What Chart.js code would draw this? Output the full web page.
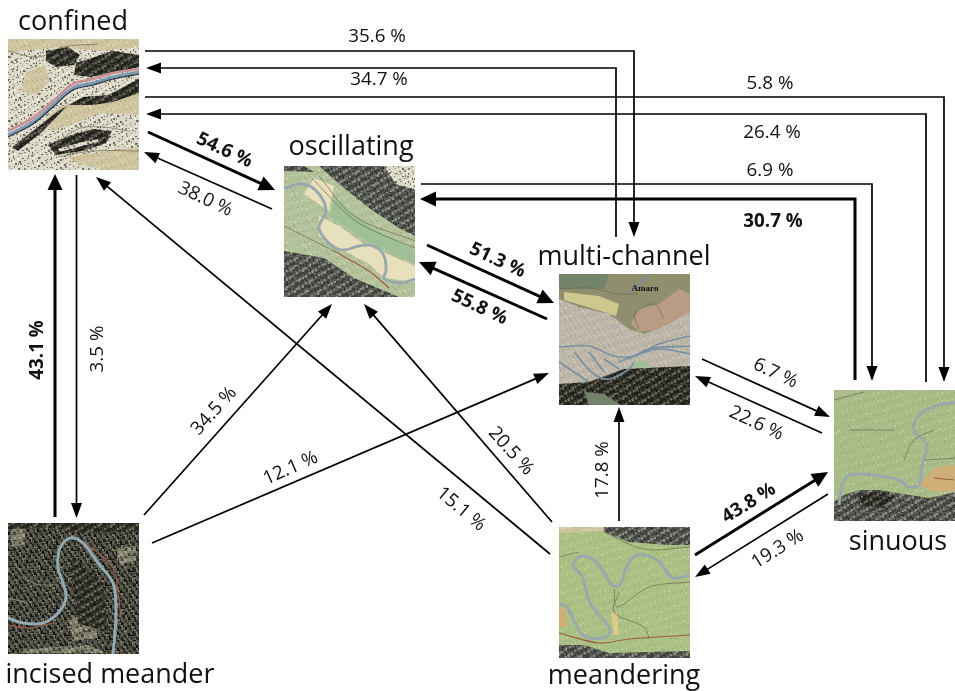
<!DOCTYPE html>
<html>
<head>
<meta charset="utf-8">
<title>River pattern transitions</title>
<style>
  html, body { margin: 0; padding: 0; background: #fff; }
  canvas { display: block; }
</style>
<script src="https://cdn.jsdelivr.net/npm/chart.js@4/dist/chart.umd.min.js"></script>
</head>
<body>
<canvas id="transitions" width="955" height="691"></canvas>
<script>
// river types and the top left corner of their map tile
const nodeNames = ['confined', 'oscillating', 'multi-channel', 'sinuous', 'incised meander', 'meandering'];
const nodeCorners = [[8, 39], [284, 166], [559, 274], [834, 390], [8, 523], [559, 527]];
const nodeLabelSpots = [[73, 20], [351, 145], [624, 255], [898, 540], [110, 673], [624, 674]];

// transition shares in %
const edgeValues = [35.6, 34.7, 5.8, 26.4, 6.9, 30.7, 54.6, 38.0, 51.3, 55.8, 6.7, 22.6, 43.1, 3.5, 34.5, 12.1, 20.5, 15.1, 17.8, 43.8, 19.3];
const edgeStrong = [0, 0, 0, 0, 0, 1, 1, 0, 1, 1, 0, 0, 1, 0, 0, 0, 0, 0, 0, 1, 0];
const edgeRoutes = [
  [[145, 51], [634, 51], [634, 237]],
  [[616, 237], [616, 68], [146, 68]],
  [[145, 97], [944, 97], [944, 382]],
  [[926, 382], [926, 114], [146, 114]],
  [[421, 184], [872, 184], [872, 381]],
  [[855, 380], [855, 199], [420, 199]],
  [[148, 132], [275, 190]],
  [[272, 209], [144, 152]],
  [[427, 245], [554, 303]],
  [[547, 319], [419, 262]],
  [[702, 359], [830, 417]],
  [[822, 433], [695, 376]],
  [[55, 517], [55, 174]],
  [[76.5, 175], [76.5, 518]],
  [[144, 515], [332, 304]],
  [[152, 543], [549, 373]],
  [[552, 522], [364, 304]],
  [[550, 554], [96, 177]],
  [[619, 521], [619, 407]],
  [[695, 555], [828, 472]],
  [[828, 494], [695, 577]]
];
const edgeLabelSpots = [[377, 35], [379, 78], [770, 82], [772, 131], [770, 169], [773, 220], [225, 149], [206, 198], [498, 259], [480, 306], [776, 372], [757, 422], [36, 350], [96, 349], [213, 410], [290, 467], [512, 450], [462, 508], [601, 470], [748, 502], [777, 548]];
const edgeLabelAngles = [0, 0, 0, 0, 0, 0, 25, 25, 25, 25, 25, 25, -90, -90, -48, -24, 48, 40, -90, -32, -32];

// map tiles, sketched as layers in tile coordinates (0-131)
const tileBase = ['hachure', 'meadow', 'gravel', 'grass', 'forest', 'lawn'];
const tileAreas = [
  [
    ['plain', [[0, 0], [131, 0], [131, 8], [90, 12], [50, 8], [0, 14]]],
    ['ridge', [[38, 12], [60, 8], [72, 16], [66, 26], [48, 28], [38, 22]]],
    ['ridge', [[68, 24], [105, 12], [131, 16], [131, 28], [105, 34], [82, 38], [66, 36]]],
    ['plain', [[18, 34], [36, 26], [42, 42], [28, 56], [12, 52]]],
    ['plain', [[38, 78], [60, 64], [100, 62], [131, 50], [131, 76], [92, 74], [62, 86], [42, 92]]],
    ['ridge', [[4, 108], [25, 92], [50, 72], [75, 58], [100, 56], [131, 40], [131, 54], [105, 63], [85, 66], [60, 66], [35, 92], [10, 112]]],
    ['ridge', [[40, 106], [60, 97], [85, 90], [104, 92], [98, 104], [75, 112], [48, 116]]],
    ['hachure', [[50, 110], [70, 104], [90, 100], [90, 103], [70, 108], [52, 113]]],
    ['plain', [[60, 118], [100, 112], [131, 108], [131, 131], [100, 131], [70, 125]]]
  ],
  [
    ['cream', [[35, 50], [55, 60], [80, 78], [131, 100], [131, 116], [100, 112], [85, 98], [55, 82], [35, 70]]],
    ['cream', [[20, 28], [45, 45], [50, 20], [30, 12]]],
    ['green', [[52, 32], [85, 60], [131, 85], [131, 98], [85, 76], [45, 50]]],
    ['slate', [[35, 0], [131, 0], [131, 70], [115, 62], [85, 42], [60, 22]]],
    ['hachure', [[100, 0], [131, 0], [131, 24], [112, 18]]],
    ['slate', [[0, 85], [40, 92], [70, 112], [115, 131], [0, 131]]],
    ['slate', [[0, 0], [20, 0], [30, 6], [0, 5]]]
  ],
  [
    ['moss', [[0, 0], [131, 0], [131, 35], [110, 50], [85, 60], [70, 55], [50, 40], [20, 33], [0, 25]]],
    ['olive', [[0, 0], [50, 0], [45, 15], [0, 15]]],
    ['wheat', [[5, 18], [40, 22], [60, 30], [57, 42], [35, 35], [5, 26]]],
    ['rose', [[72, 50], [80, 35], [100, 30], [120, 15], [131, 20], [131, 38], [100, 55], [80, 58]]],
    ['ridge', [[0, 110], [30, 108], [65, 95], [131, 92], [131, 131], [0, 131]]],
    ['green', [[72, 93], [80, 86], [88, 88], [91, 94]]],
    ['olive', [[25, 118], [45, 120], [62, 131], [30, 131]]]
  ],
  [
    ['slate', [[0, 112], [10, 105], [25, 100], [45, 100], [75, 105], [95, 108], [131, 100], [131, 131], [0, 131]]],
    ['ridge', [[22, 104], [45, 101], [60, 106], [50, 118], [30, 116]]],
    ['sand', [[85, 95], [100, 78], [120, 75], [131, 80], [131, 100], [100, 102]]]
  ],
  [
    ['ash', [[3, 6], [18, 4], [16, 22], [3, 24]]],
    ['ash', [[108, 25], [128, 22], [128, 38], [112, 42]]],
    ['ash', [[60, 95], [85, 90], [90, 115], [65, 118]]],
    ['ash', [[15, 126], [80, 122], [100, 130], [15, 130]]],
    ['ridge', [[0, 0], [131, 0], [131, 8], [70, 10], [40, 5], [0, 6]]],
    ['ridge', [[62, 30], [95, 60], [100, 110], [70, 100], [65, 65]]]
  ],
  [
    ['plain', [[0, 0], [45, 0], [45, 4], [0, 6]]],
    ['slate', [[45, 0], [131, 0], [131, 18], [110, 18], [70, 15], [45, 5]]],
    ['slate', [[0, 118], [25, 118], [50, 126], [131, 124], [131, 131], [0, 131]]],
    ['sand', [[0, 80], [6, 80], [8, 100], [0, 100]]],
    ['straw', [[52, 86], [58, 85], [60, 108], [55, 108]]]
  ]
];
const tileStreams = [
  [
    ['pinkBank', [[0, 92], [25, 79], [45, 62], [65, 45], [85, 40], [105, 34], [131, 30]]],
    ['water', [[0, 96], [25, 83], [45, 66], [65, 49], [85, 44], [105, 38], [131, 33]]],
    ['inkLine', [[0, 98], [25, 85], [45, 68], [65, 51], [85, 46], [105, 40], [131, 35]]],
    ['track', [[0, 12], [30, 18], [55, 8], [90, 5]]],
    ['track', [[40, 112], [70, 90], [95, 88], [120, 92]]],
    ['track', [[50, 118], [85, 112], [131, 112]]]
  ],
  [
    ['greyRiver', [[0, 22], [20, 18], [35, 28], [42, 45], [35, 62], [48, 80], [60, 84], [75, 80], [90, 80], [100, 90], [102, 105], [100, 112], [115, 117], [131, 113]]],
    ['track', [[28, 12], [65, 50], [90, 65], [131, 82]]],
    ['track', [[35, 10], [70, 50], [131, 75]]],
    ['redRoad', [[50, 85], [85, 105], [105, 122]]],
    ['track', [[0, 60], [20, 70], [50, 85]]]
  ],
  [
    ['riverBlue', [[0, 73], [30, 72], [55, 82], [75, 82], [100, 70], [131, 62]]],
    ['riverBlue', [[60, 88], [75, 82], [100, 75], [131, 80]]],
    ['riverBlue', [[15, 78], [35, 100], [50, 105], [70, 95], [75, 88]]],
    ['riverBlue', [[30, 78], [45, 98]]],
    ['riverBlue', [[70, 85], [90, 75], [131, 72]]],
    ['riverBlue', [[0, 88], [18, 100], [30, 108]]],
    ['riverBlue', [[45, 85], [60, 95]]],
    ['riverBlue', [[68, 20], [78, 12], [90, 0]]],
    ['track', [[0, 15], [30, 14], [60, 20], [80, 20]]],
    ['track', [[80, 55], [76, 40], [95, 30], [105, 45]]]
  ],
  [
    ['greyRiver', [[5, 115], [8, 95], [15, 85], [40, 85], [65, 90], [75, 97], [85, 95], [88, 75], [93, 55], [80, 40], [85, 25], [105, 15], [131, 12]]],
    ['track', [[0, 10], [30, 2]]],
    ['track', [[15, 40], [60, 40]]],
    ['track', [[90, 70], [125, 68]]],
    ['track', [[70, 70], [80, 50], [100, 40]]],
    ['redRoad', [[100, 88], [120, 90]]]
  ],
  [
    ['redRoad', [[62, 12], [80, 22], [105, 45], [110, 70], [113, 95]]],
    ['riverPale', [[0, 95], [15, 100], [35, 100], [50, 90], [58, 75], [55, 60], [50, 45], [52, 25], [62, 15], [75, 20], [90, 40], [105, 60], [108, 85], [107, 110], [105, 131]]],
    ['redRoad', [[0, 102], [20, 105], [45, 100]]],
    ['ashLine', [[5, 40], [25, 60], [50, 62]]],
    ['ashLine', [[0, 75], [20, 80]]]
  ],
  [
    ['greyRiver', [[131, 48], [114, 51], [98, 33], [78, 28], [68, 39], [61, 58], [53, 58], [38, 36], [23, 29], [14, 38], [23, 49], [31, 76], [51, 103], [44, 111], [24, 108], [13, 89], [6, 78], [0, 78]]],
    ['redRoad', [[0, 106], [40, 116], [70, 112], [131, 108]]],
    ['track', [[0, 30], [20, 25]]],
    ['track', [[55, 62], [58, 80], [90, 60], [131, 55]]],
    ['track', [[60, 65], [55, 85], [85, 100], [90, 110]]],
    ['track', [[45, 5], [85, 22], [131, 20]]]
  ]
];

const TILE = 131;

// repeating grain for the map paper, a texture and no part of the chart data
function grain(base, inks, count, size) {
  const c = document.createElement('canvas');
  c.width = c.height = 64;
  const g = c.getContext('2d');
  g.fillStyle = base;
  g.fillRect(0, 0, 64, 64);
  for (let i = 0; i < count; i++) {
    const px = Math.floor((i * 0.7548777 % 1) * 64);
    const py = Math.floor((i * 0.5698403 % 1) * 64);
    g.fillStyle = inks[i % inks.length];
    g.fillRect(px, py, 1 + i % size, 1 + (i >> 2) % size);
  }
  return g.createPattern(c, 'repeat');
}
const areaFills = {
  plain: grain('#cfc4a0', ['#b5a983', '#ded5b6'], 240, 2),
  meadow: grain('#b3c29a', ['#9aab82', '#c6d2ae'], 240, 2),
  gravel: grain('#bdb7a9', ['#a8a396', '#cbc6b9'], 300, 2),
  grass: grain('#a9bb86', ['#98aa78', '#b9ca96'], 200, 2),
  lawn: grain('#abc084', ['#9bb076', '#bbce95'], 200, 2),
  forest: grain('#4a4940', ['#24241e', '#77766a', '#14140f', '#5f5e52'], 700, 3),
  hachure: grain('#dcd8c8', ['#8b8878', '#f2efe4', '#6e6b5c'], 420, 2),
  ridge: grain('#3a3932', ['#14140f', '#6a695d', '#22221c'], 560, 3),
  slate: grain('#5b5d57', ['#2c2d29', '#8b8c84', '#41423d'], 560, 3),
  ash: grain('#7c7b68', ['#45443a', '#9d9c88'], 380, 3),
  cream: '#e8dfbd',
  green: '#9fc097',
  moss: '#8f8f6e',
  olive: '#74836a',
  wheat: '#cfc88e',
  rose: '#b99c84',
  sand: '#cfae78',
  straw: '#dacb86'
};
const streamStyles = {
  pinkBank: ['#cc8f94', 2.5],
  water: ['#7d9ab5', 3],
  inkLine: ['#27323f', 1.2],
  track: ['#6f6a4e', 0.7],
  greyRiver: ['#98a8ae', 2.8],
  redRoad: ['#9b5b45', 1.2],
  riverBlue: ['#788fa2', 1.6],
  riverPale: ['#93aab2', 3],
  ashLine: ['#8b8a7c', 1]
};

function placed(tileIndex, pts) {
  const c = nodeCorners[tileIndex];
  return pts.map(p => ({ x: c[0] + p[0], y: c[1] + p[1] }));
}
function areaSet(tileIndex, key, pts) {
  return {
    data: placed(tileIndex, pts),
    showLine: true, fill: 'shape', backgroundColor: areaFills[key],
    borderWidth: 0, pointRadius: 0
  };
}
function streamSet(tileIndex, key, pts) {
  return {
    data: placed(tileIndex, pts),
    showLine: true, fill: false, borderColor: streamStyles[key][0],
    borderWidth: streamStyles[key][1], tension: 0.35, pointRadius: 0
  };
}

// stop the shaft short of the tip, the head is drawn on top
function shaft(route, headLen) {
  const pts = route.map(p => ({ x: p[0], y: p[1] }));
  const a = pts[pts.length - 2], b = pts[pts.length - 1];
  const len = Math.hypot(b.x - a.x, b.y - a.y);
  b.x -= (b.x - a.x) / len * (headLen - 2);
  b.y -= (b.y - a.y) / len * (headLen - 2);
  return pts;
}

const datasets = [];
nodeNames.forEach((name, i) => {
  datasets.push(areaSet(i, tileBase[i], [[0, 0], [TILE, 0], [TILE, TILE], [0, TILE]]));
  tileAreas[i].forEach(a => datasets.push(areaSet(i, a[0], a[1])));
  tileStreams[i].forEach(s => datasets.push(streamSet(i, s[0], s[1])));
});
edgeRoutes.forEach((route, i) => {
  datasets.push({
    data: shaft(route, edgeStrong[i] ? 16 : 15),
    showLine: true, fill: false, borderColor: '#000',
    borderWidth: edgeStrong[i] ? 3 : 1.7, borderJoinStyle: 'miter', pointRadius: 0
  });
});
// lower index is painted last in Chart.js, so later layers need a lower order
datasets.forEach((d, i) => { d.order = -i; });

const arrowHeads = {
  id: 'arrowHeads',
  afterDatasetsDraw(chart) {
    const { ctx, scales: { x, y } } = chart;
    edgeRoutes.forEach((route, i) => {
      const a = route[route.length - 2], b = route[route.length - 1];
      const tx = x.getPixelForValue(b[0]), ty = y.getPixelForValue(b[1]);
      const ang = Math.atan2(ty - y.getPixelForValue(a[1]), tx - x.getPixelForValue(a[0]));
      const len = edgeStrong[i] ? 16 : 15, half = edgeStrong[i] ? 7.5 : 5.5;
      ctx.save();
      ctx.translate(tx, ty);
      ctx.rotate(ang);
      ctx.fillStyle = '#000';
      ctx.beginPath();
      ctx.moveTo(0, 0);
      ctx.lineTo(-len, half);
      ctx.lineTo(-len, -half);
      ctx.closePath();
      ctx.fill();
      ctx.restore();
    });
  }
};

const diagramText = {
  id: 'diagramText',
  afterDraw(chart) {
    const { ctx, scales: { x, y } } = chart;
    ctx.save();
    ctx.textAlign = 'center';
    ctx.textBaseline = 'middle';
    ctx.fillStyle = '#111';
    ctx.font = '27px "Open Sans"';
    nodeNames.forEach((name, i) => {
      ctx.fillText(name, x.getPixelForValue(nodeLabelSpots[i][0]), y.getPixelForValue(nodeLabelSpots[i][1]) + 2);
    });
    edgeValues.forEach((v, i) => {
      ctx.save();
      ctx.translate(x.getPixelForValue(edgeLabelSpots[i][0]), y.getPixelForValue(edgeLabelSpots[i][1]));
      ctx.rotate(edgeLabelAngles[i] * Math.PI / 180);
      ctx.font = (edgeStrong[i] ? 'bold ' : '') + '18.8px "Open Sans"';
      ctx.fillText(v.toFixed(1) + ' %', 0, 1.5);
      ctx.restore();
    });
    // place name printed on the multi-channel map
    ctx.font = 'bold 9px "Liberation Serif"';
    ctx.fillText('Amaro', x.getPixelForValue(645), y.getPixelForValue(289));
    ctx.restore();
  }
};

const ctx = document.getElementById('transitions').getContext('2d');
const transitions = new Chart(ctx, {
  type: 'scatter',
  data: { datasets: datasets },
  options: {
    responsive: false,
    animation: false,
    layout: { padding: 0 },
    scales: {
      x: { type: 'linear', min: 0, max: 955, display: false },
      y: { type: 'linear', min: 0, max: 691, reverse: true, display: false }
    },
    plugins: {
      legend: { display: false },
      title: { display: false },
      tooltip: { enabled: false }
    }
  },
  plugins: [arrowHeads, diagramText]
});
</script>
</body>
</html>
